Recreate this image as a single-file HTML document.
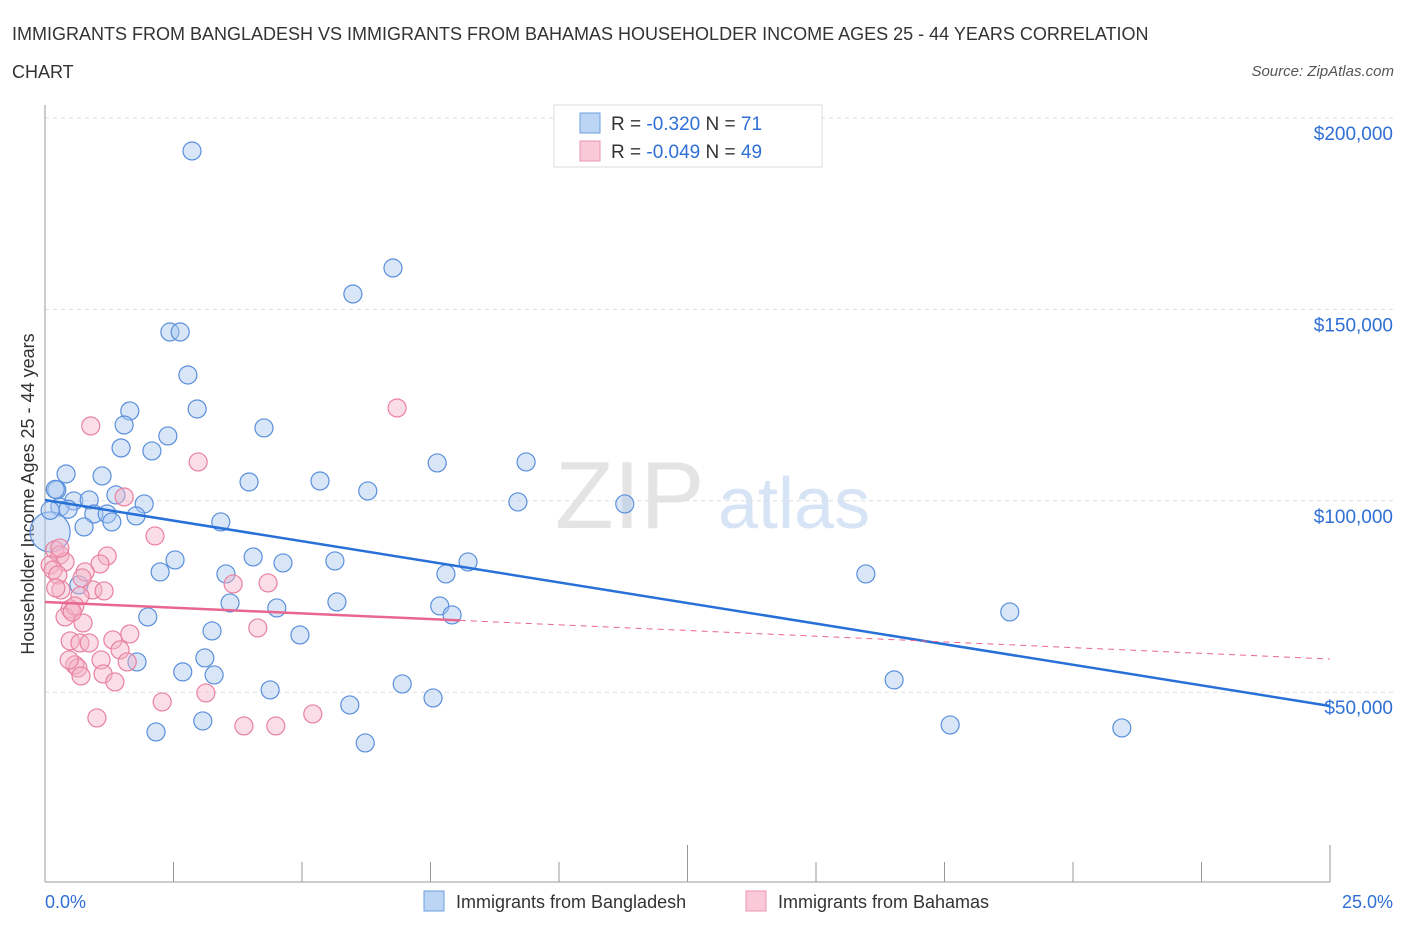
<!DOCTYPE html>
<html><head><meta charset="utf-8"><style>
body{margin:0;background:#fff;font-family:"Liberation Sans",sans-serif;}
svg text{font-family:"Liberation Sans",sans-serif;}
</style></head><body>
<svg id="chart" width="1406" height="930" xmlns="http://www.w3.org/2000/svg">
<text x="12" y="40" font-size="18" fill="#333">IMMIGRANTS FROM BANGLADESH VS IMMIGRANTS FROM BAHAMAS HOUSEHOLDER INCOME AGES 25 - 44 YEARS CORRELATION</text>
<text x="12" y="78" font-size="18" fill="#333">CHART</text>
<text x="1394" y="76" font-size="15" fill="#555" font-style="italic" text-anchor="end">Source: ZipAtlas.com</text>
<text x="555" y="528" font-size="96" fill="#e4e4e4" font-family="Liberation Serif">ZIP</text>
<text x="718" y="528" font-size="72" fill="#d6e4f5">atlas</text>
<text transform="translate(34,494) rotate(-90)" font-size="18" fill="#333" text-anchor="middle">Householder Income Ages 25 - 44 years</text>
<g id="grid"></g><g id="axes"></g><g id="marks"></g>
<g>
<rect x="554" y="105" width="268" height="62" fill="#fff" stroke="#ddd"/>
<rect x="580" y="113" width="20" height="20" fill="#bcd5f5" stroke="#6d9fe0"/>
<rect x="580" y="141" width="20" height="20" fill="#f9c9d7" stroke="#eb94b0"/>
<text x="611" y="130" font-size="19" fill="#333">R = <tspan fill="#2f6fd6">-0.320</tspan>   N = <tspan fill="#2f6fd6"> 71</tspan></text>
<text x="611" y="158" font-size="19" fill="#333">R = <tspan fill="#2f6fd6">-0.049</tspan>   N = <tspan fill="#2f6fd6">49</tspan></text>
</g>
<g>
<rect x="424" y="891" width="20" height="20" fill="#bcd5f5" stroke="#6d9fe0"/>
<text x="456" y="908" font-size="18" fill="#333">Immigrants from Bangladesh</text>
<rect x="746" y="891" width="20" height="20" fill="#f9c9d7" stroke="#eb94b0"/>
<text x="778" y="908" font-size="18" fill="#333">Immigrants from Bahamas</text>
</g>
<text x="45" y="908" font-size="18" fill="#2f6fd6">0.0%</text>
<text x="1393" y="908" font-size="18" fill="#2f6fd6" text-anchor="end">25.0%</text>
</svg>
<script>
const yTicks=[50000,100000,150000,200000];
const yTickLabels=["$50,000","$100,000","$150,000","$200,000"];
const xTicks=[0,2.5,5,7.5,10,12.5,15,17.5,20,22.5,25];
const blueX=[2.86,6.77,5.99,2.43,2.63,2.78,2.96,1.65,1.54,4.26,2.39,1.48,2.08,7.63,9.36,0.41,1.11,3.97,5.35,6.28,0.23,1.38,0.56,0.86,1.93,9.20,11.28,0.29,0.95,1.21,1.77,0.76,1.30,3.42,0.10,4.05,2.53,4.63,5.64,8.23,2.24,3.52,7.80,15.97,0.66,3.60,5.68,4.51,7.68,7.92,2.00,18.77,3.25,4.96,3.11,1.79,2.68,3.29,16.52,6.95,4.38,7.55,5.93,3.07,17.61,2.16,20.95,6.23,0.10,0.45,0.20];
const blueY=[191380,160820,154030,144100,144100,132870,123990,123470,119810,119030,116940,113800,113020,109890,110150,107010,106490,104920,105180,102570,102830,101530,99960,100220,99180,99700,99180,98390,96560,96560,96040,93170,94480,94480,91860,85330,84550,83770,84290,84030,81420,80890,80890,80890,78020,73320,73580,72010,72530,70180,69660,70970,66000,64960,58950,57910,55300,54510,53210,52160,50590,48500,46670,42490,41450,39620,40660,36750,97500,97800,103000];
const pinkX=[6.85,0.89,2.98,1.54,2.14,0.19,0.29,0.10,0.39,0.16,1.21,1.07,0.78,0.25,3.66,4.34,0.31,0.93,1.15,0.68,0.49,0.39,0.58,0.74,4.14,1.65,1.32,0.49,0.68,0.86,1.46,1.09,1.60,0.58,0.64,1.13,0.70,1.36,3.13,2.28,1.01,3.87,4.49,5.21,0.21,0.53,0.47,0.72,0.29];
const pinkY=[124250,119550,110150,101000,90820,87160,85860,83240,84030,81940,85600,83500,81420,80630,78280,78540,76710,76710,76450,75150,71750,69660,72530,68090,66790,65220,63650,63390,62870,62870,61040,58430,57910,57130,56340,54770,54250,52680,49810,47460,43280,41190,41190,44320,77230,70970,58430,79850,87690];
const blueTrend=[100200,46400]; // value at x=0 and x=25
const pinkTrend=[73560,58670];
const pinkSolidEnd=8.07;

const NS="http://www.w3.org/2000/svg";
const sx=v=>45+v/25*1285;
const sy=v=>118+(200000-v)/50000*191.4;
function mk(tag,attrs,parent){const e=document.createElementNS(NS,tag);for(const k in attrs)e.setAttribute(k,attrs[k]);parent.appendChild(e);return e;}
const grid=document.getElementById('grid'),axes=document.getElementById('axes'),marks=document.getElementById('marks');
yTicks.forEach((t,i)=>{
 const l=mk('line',{x1:45,x2:1394,y1:sy(t),y2:sy(t),stroke:'#ddd','stroke-dasharray':'4,4'},grid);
 
 
 const tx=mk('text',{x:1393,y:sy(t)+22,'font-size':19,fill:'#2f6fd6','text-anchor':'end'},grid);
 tx.textContent=yTickLabels[i];
 
 
});
const ya=mk('line',{x1:45,x2:45,y1:105,y2:882,stroke:'#999'},axes);


const xa=mk('line',{x1:45,x2:1330,y1:882,y2:882,stroke:'#999'},axes);


xTicks.forEach((t,i)=>{
 const tk=mk('line',{x1:sx(t),x2:sx(t),y1:882,y2:(i===5||i===10)?845:862,stroke:'#999'},axes);
 
 
});
function dots(X,Y,fill,stroke,name){
 X.forEach((x,i)=>{
  const r=(i===34&&name==='blue-point')?20:9;
  const c=mk('circle',{cx:sx(x),cy:sy(Y[i]),r:r,fill:fill,'fill-opacity':0.45,stroke:stroke,'stroke-width':1.2},marks);
  
  
 });
}
dots(blueX,blueY,'#a9c8f0','#5a8fdc','blue-point');
dots(pinkX,pinkY,'#f5b3c7','#e8819f','pink-point');
const bl=mk('line',{x1:sx(0),y1:sy(blueTrend[0]),x2:sx(25),y2:sy(blueTrend[1]),stroke:'#2670d8','stroke-width':2.5},marks);


const pm=pinkTrend[0]+(pinkTrend[1]-pinkTrend[0])*pinkSolidEnd/25;
const pl=mk('line',{x1:sx(0),y1:sy(pinkTrend[0]),x2:sx(pinkSolidEnd),y2:sy(pm),stroke:'#e8668f','stroke-width':2.5},marks);


const pd=mk('line',{x1:sx(pinkSolidEnd),y1:sy(pm),x2:sx(25),y2:sy(pinkTrend[1]),stroke:'#e8668f','stroke-width':1,'stroke-dasharray':'6,5'},marks);


</script>
</body></html>
